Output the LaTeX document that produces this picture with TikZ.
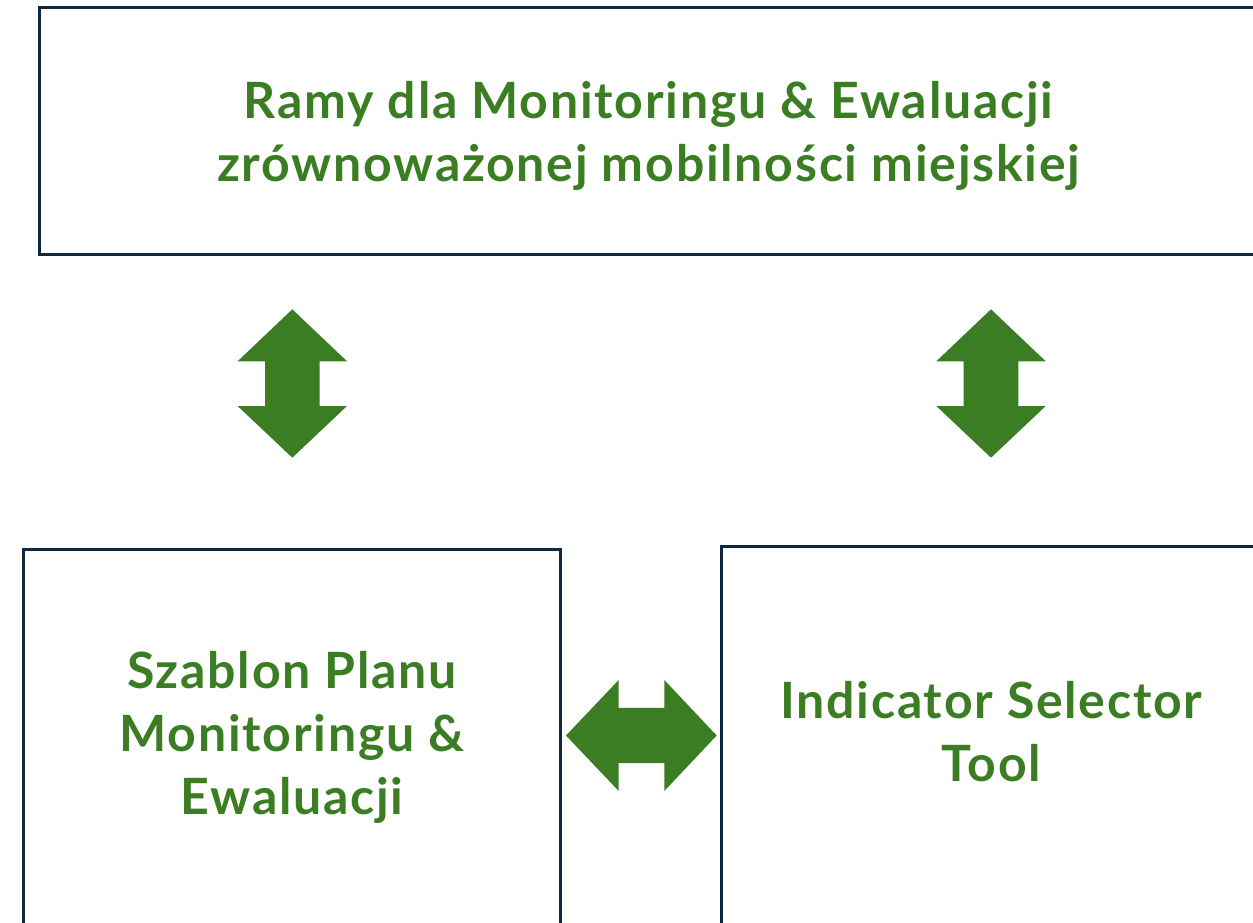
\documentclass[tikz,border=0pt]{standalone}
\usepackage{fontspec}
\setmainfont{Lato}[UprightFont=* Bold, LetterSpace=3.5]
\definecolor{boxline}{HTML}{0E2841}
\definecolor{leafgreen}{HTML}{3B7D23}
\begin{document}
\begin{tikzpicture}[x=1pt,y=-1pt,
  box/.style={draw=boxline,line width=3.5pt,rectangle,inner sep=0pt},
  label/.style={inner sep=0pt,align=center,text=leafgreen,font=\fontsize{50}{63}\selectfont},
  blockarrow/.style={fill=leafgreen,draw=none}]
\useasboundingbox (0,0) rectangle (1253,923);
\clip (0,0) rectangle (1253,923);
\fill[white] (0,0) rectangle (1253,923);
\node[box,minimum width=1217.5pt,minimum height=247pt] (top) at (648.25,131) {};
\node[box,minimum width=537pt,minimum height=410.5pt] (plan) at (292,754.75) {};
\node[box,minimum width=539.5pt,minimum height=413.5pt] (tool) at (991.25,753.25) {};
\node[label] (toptext) at (648.5,135.5)
  {Ramy dla Monitoringu \& Ewaluacji\\zrównoważonej mobilności miejskiej};
\node[label] (plantext) at (292,737)
  {Szablon Planu\\Monitoringu \&\\Ewaluacji};
\node[label] (tooltext) at (991.4,731.5)
  {Indicator Selector\\Tool};
% vertical double arrows
\foreach \cx in {292.3, 991}{
  \fill[blockarrow] (\cx,309.3) -- (\cx+54.7,361.3) -- (\cx+27.3,361.3) -- (\cx+27.3,406)
    -- (\cx+54.7,406) -- (\cx,457.7) -- (\cx-54.7,406) -- (\cx-27.3,406)
    -- (\cx-27.3,361.3) -- (\cx-54.7,361.3) -- cycle;
}
% horizontal double arrow
\fill[blockarrow] (566,735.5) -- (618.7,680) -- (618.7,707.8) -- (664.3,707.8)
  -- (664.3,680) -- (716.7,735.5) -- (664.3,791) -- (664.3,763.2)
  -- (618.7,763.2) -- (618.7,791) -- cycle;
\end{tikzpicture}
\end{document}
